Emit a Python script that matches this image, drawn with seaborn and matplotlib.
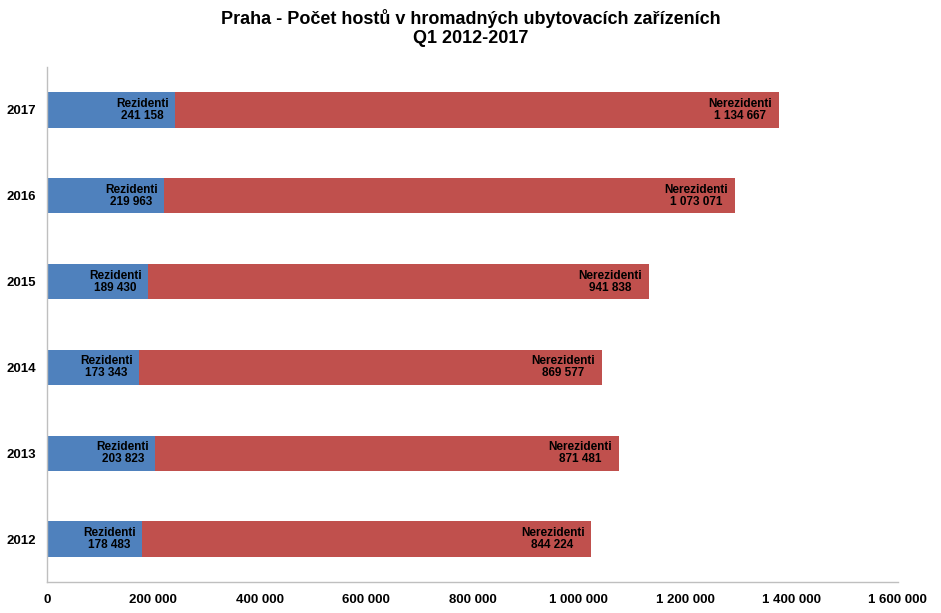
import pandas as pd
import numpy as np
import matplotlib
matplotlib.use('Agg')
import matplotlib.pyplot as plt
from matplotlib.ticker import FuncFormatter
import seaborn as sns

sns.set_theme(style='white')
plt.rcParams['font.family'] = ['Liberation Sans', 'DejaVu Sans']
plt.rcParams['text.color'] = 'black'
plt.rcParams['xtick.color'] = 'black'
plt.rcParams['ytick.color'] = 'black'

# data (Q1 guests, Prague)
years = ['2017', '2016', '2015', '2014', '2013', '2012']
rezidenti = [241158, 219963, 189430, 173343, 203823, 178483]
nerezidenti = [1134667, 1073071, 941838, 869577, 871481, 844224]
x_ticks = [0, 200000, 400000, 600000, 800000, 1000000, 1200000, 1400000, 1600000]

df = pd.DataFrame({'rok': years, 'Rezidenti': rezidenti, 'Nerezidenti': nerezidenti})
df['celkem'] = df['Rezidenti'] + df['Nerezidenti']

blue = '#4F81BD'
red = '#C0504D'


def fmt(v):
    return f'{int(v):,}'.replace(',', ' ')


fig = plt.figure(figsize=(9.41, 6.13), dpi=100)
ax = fig.add_axes([0.05, 0.0506, 0.904, 0.84])

# stacked: total bar in red, residents drawn over it in blue
sns.barplot(data=df, x='celkem', y='rok', order=years, color=red, width=0.41,
            saturation=1, linewidth=0, ax=ax, orient='h')
sns.barplot(data=df, x='Rezidenti', y='rok', order=years, color=blue, width=0.41,
            saturation=1, linewidth=0, ax=ax, orient='h')

for i, row in df.iterrows():
    ax.text(row['Rezidenti'] - 12000, i, 'Rezidenti\n' + fmt(row['Rezidenti']),
            ha='right', va='center', fontsize=8.5, fontweight='bold',
            color='black', linespacing=1.0, multialignment='center')
    ax.text(row['celkem'] - 12000, i, 'Nerezidenti\n' + fmt(row['Nerezidenti']),
            ha='right', va='center', fontsize=8.5, fontweight='bold',
            color='black', linespacing=1.0, multialignment='center')

ax.set_xlim(0, 1600000)
ax.set_ylim(5.5, -0.5)
ax.set_xticks(x_ticks)
ax.xaxis.set_major_formatter(FuncFormatter(lambda v, p: fmt(v)))
ax.set_xlabel('')
ax.set_ylabel('')

for s in ['top', 'right']:
    ax.spines[s].set_visible(False)
for s in ['left', 'bottom']:
    ax.spines[s].set_color('#BFBFBF')
    ax.spines[s].set_linewidth(1)

ax.tick_params(axis='x', which='major', direction='out', length=5, color='#BFBFBF',
               labelcolor='black', labelsize=9.5, pad=4)
ax.tick_params(axis='y', which='major', length=0, labelcolor='black', labelsize=9.5, pad=8)
ax.set_yticks(np.arange(-0.5, 6, 1), minor=True)
ax.tick_params(axis='y', which='minor', direction='out', length=5, color='#BFBFBF')
for lab in ax.get_xticklabels() + ax.get_yticklabels():
    lab.set_fontweight('bold')

fig.suptitle('Praha - Počet hostů v hromadných ubytovacích zařízeních\nQ1 2012-2017',
             y=0.985, fontsize=13, fontweight='bold', color='black', linespacing=1.15)

fig.savefig('out.png', dpi=100)
